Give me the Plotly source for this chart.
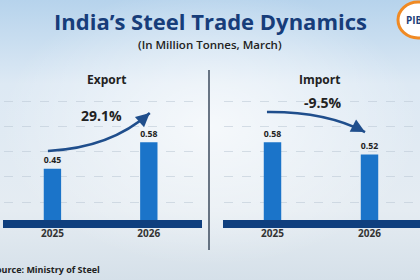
import base64
import plotly.graph_objects as go

# ---------------- data ----------------
title = "India’s Steel Trade Dynamics"
subtitle = "(In Million Tonnes, March)"
years = ["2025", "2026"]
export_vals = [0.45, 0.58]
import_vals = [0.58, 0.52]
export_change = "29.1%"
import_change = "-9.5%"
panel_titles = ["Export", "Import"]
source_text = "Source: Ministry of Steel"

W, H = 420, 280


def px(x):
    return x / W


def py(y):
    return 1 - y / H


BAR = "#1b74c9"
NAVY = "#0f3f7e"
TXT = "#222222"
ARROW = "#1f4e8c"
FONT = "Open Sans"

fig = go.Figure()
x_idx = list(range(len(years)))
for vals, xa, ya in [(export_vals, "x", "y"), (import_vals, "x2", "y2")]:
    fig.add_trace(go.Bar(
        x=x_idx, y=vals, xaxis=xa, yaxis=ya, width=0.18,
        marker=dict(color=BAR, line=dict(width=0)),
        text=[f"{v:.2f}" for v in vals], textposition="outside",
        textfont=dict(size=11, color=TXT, family=FONT, weight=700),
        showlegend=False, hoverinfo="skip",
    ))

ydom = [py(220), py(95)]
yrange = [0.2, 0.81]
common_x = dict(range=[-0.5, 1.5], tickvals=x_idx, ticktext=years, showgrid=False,
                zeroline=False, showline=False, ticks="", ticklabelstandoff=6,
                tickfont=dict(size=10, color="#333333", family=FONT, weight=700))
common_y = dict(range=yrange, domain=ydom, showticklabels=False, zeroline=False,
                showgrid=True, gridcolor="rgba(185,198,212,0.55)", griddash="dash",
                gridwidth=1, tick0=0.287, dtick=0.123, ticks="")

bg_svg = f'''<svg xmlns="http://www.w3.org/2000/svg" width="{W}" height="{H}">
<defs>
<linearGradient id="g" x1="0" y1="0" x2="0" y2="1">
<stop offset="0" stop-color="#b6d3ec"/><stop offset="0.3" stop-color="#dde9f4"/>
<stop offset="0.75" stop-color="#e5ecf2"/><stop offset="1" stop-color="#d5e0e9"/>
</linearGradient>
<radialGradient id="r" cx="0.5" cy="0.45" r="0.5">
<stop offset="0" stop-color="#ffffff" stop-opacity="0.7"/>
<stop offset="1" stop-color="#ffffff" stop-opacity="0"/>
</radialGradient>
</defs>
<rect width="{W}" height="{H}" fill="url(#g)"/>
<rect width="{W}" height="{H}" fill="url(#r)"/>
</svg>'''
bg_src = "data:image/svg+xml;base64," + base64.b64encode(bg_svg.encode()).decode()

fig.update_layout(
    width=W, height=H, margin=dict(l=0, r=0, t=0, b=0),
    paper_bgcolor="#e6eef4", plot_bgcolor="rgba(0,0,0,0)",
    xaxis=dict(domain=[px(4.25), px(197)], anchor="y", **common_x),
    yaxis=dict(anchor="x", **common_y),
    xaxis2=dict(domain=[px(224), px(418)], anchor="y2", **common_x),
    yaxis2=dict(anchor="x2", **common_y),
    images=[dict(source=bg_src, xref="paper", yref="paper", x=0, y=1, sizex=1, sizey=1,
                 sizing="stretch", layer="below", xanchor="left", yanchor="top")],
)

shapes = []
# baselines
shapes.append(dict(type="rect", xref="paper", yref="paper", x0=px(3), x1=px(202),
                   y0=py(228), y1=py(220), fillcolor=NAVY, line=dict(width=0), layer="above"))
shapes.append(dict(type="rect", xref="paper", yref="paper", x0=px(223), x1=px(421),
                   y0=py(228), y1=py(220), fillcolor=NAVY, line=dict(width=0), layer="above"))
# divider
shapes.append(dict(type="line", xref="paper", yref="paper", x0=px(209), x1=px(209),
                   y0=py(250), y1=py(70), line=dict(color="#3b4a5c", width=1.5)))
# logo
shapes.append(dict(type="circle", xref="paper", yref="paper", x0=px(398), x1=px(438),
                   y0=py(38), y1=py(2), fillcolor="#ffffff", line=dict(color="#f08a24", width=3)))

annotations = []
# curved arrows (data coords)
arrows = [
    ("x", "y", (-0.047, 0.537), (0.6, 0.551), (1.01, 0.722)),
    ("x2", "y2", (-0.057, 0.727), (0.55, 0.73), (0.954, 0.629)),
]
for xa, ya, p0, c, p1 in arrows:
    shapes.append(dict(type="path", xref=xa, yref=ya,
                       path=f"M {p0[0]},{p0[1]} Q {c[0]},{c[1]} {p1[0]},{p1[1]}",
                       line=dict(color=ARROW, width=2.5)))
    tx = p1[0] - 0.12 * (p1[0] - c[0])
    tyy = p1[1] - 0.12 * (p1[1] - c[1])
    annotations.append(dict(x=p1[0], y=p1[1], ax=tx, ay=tyy, xref=xa, yref=ya,
                            axref=xa, ayref=ya, showarrow=True, arrowhead=2,
                            arrowsize=1.1, arrowwidth=2.5, arrowcolor=ARROW, text=""))


def label(text, x, y, size, color=TXT, weight=700, xref="paper", yref="paper", xanchor="center"):
    return dict(text=text, x=x, y=y, xref=xref, yref=yref, showarrow=False,
                xanchor=xanchor, yanchor="middle",
                font=dict(size=size, color=color, family=FONT, weight=weight))


annotations += [
    label(title, 0.5, py(21), 22, color="#173d7a"),
    label(subtitle, 0.5, py(45), 11.5, weight=600),
    label(panel_titles[0], px(106), py(79), 12),
    label(panel_titles[1], px(319), py(79), 12),
    label(export_change, 0.513, 0.712, 14, xref="x", yref="y"),
    label(import_change, 0.52, 0.771, 14, xref="x2", yref="y2"),
    label(source_text, px(-11), py(269), 9, xanchor="left"),
    label("PIB", px(414), py(20), 10, color="#1d3f7a"),
]

fig.update_layout(shapes=shapes, annotations=annotations)
fig.write_html("out.html")
